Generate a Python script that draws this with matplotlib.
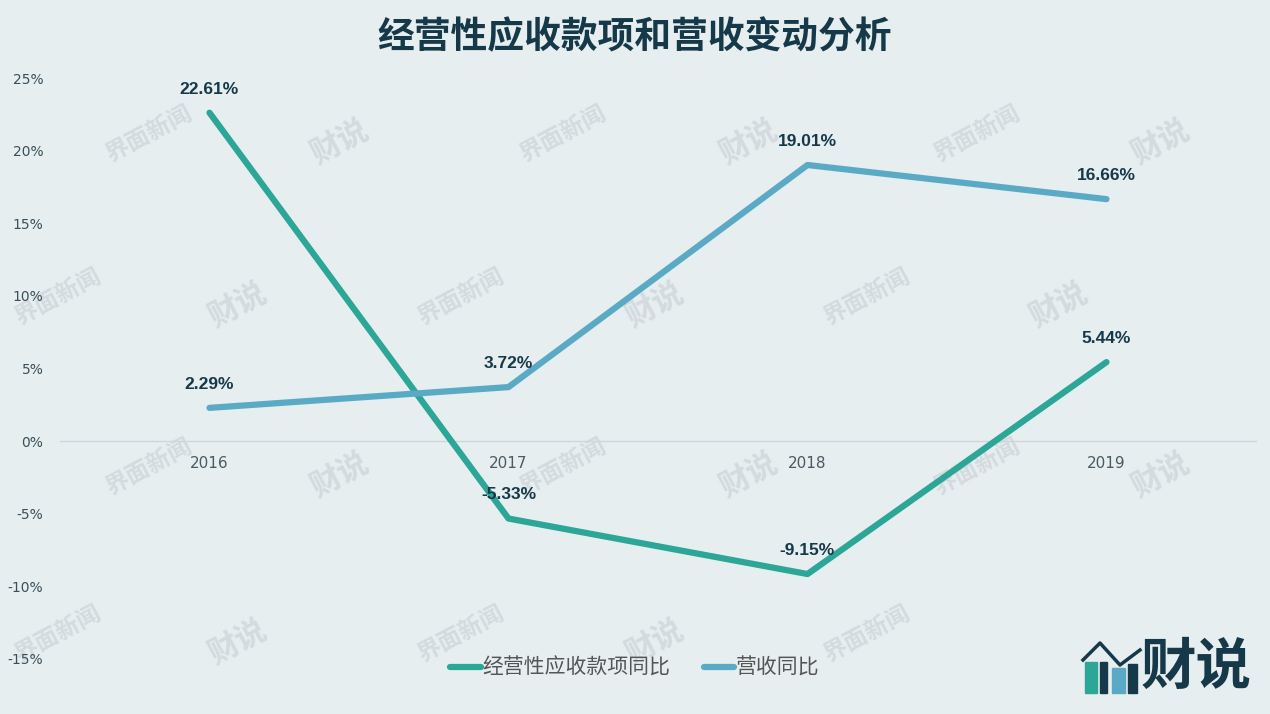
import matplotlib
matplotlib.use("Agg")
import matplotlib.pyplot as plt
from matplotlib.patches import Rectangle
from matplotlib.lines import Line2D

plt.rcParams['font.family'] = ['Noto Sans CJK SC', 'DejaVu Sans']

years = ['2016', '2017', '2018', '2019']
receivables_yoy = [22.61, -5.33, -9.15, 5.44]
revenue_yoy = [2.29, 3.72, 19.01, 16.66]
yticks = [-15, -10, -5, 0, 5, 10, 15, 20, 25]

# watermark layout (pixel centres)
wm_rows_a = [137, 470]
wm_rows_b = [300, 637]
wm_news_a = [149, 563, 977]
wm_cs_a = [339, 748, 1160]
wm_news_b = [58, 461, 867]
wm_cs_b = [237, 654, 1058]

bg = '#E6EEF0'
teal = '#2BA697'
blue = '#5BAAC5'
dark = '#16394A'
wm_color = '#D3DBDE'

fig = plt.figure(figsize=(12.7, 7.14), dpi=100, facecolor=bg)

def watermark(px, py, txt, size):
    fig.text(px / 1270, 1 - py / 714, txt, rotation=28, ha='center', va='center',
             fontsize=size, fontweight='bold', color=wm_color, zorder=-1)

for rows, news, cs in [(wm_rows_a, wm_news_a, wm_cs_a), (wm_rows_b, wm_news_b, wm_cs_b)]:
    for ry in rows:
        for nx in news:
            watermark(nx, ry - 3, '界面新闻', 17)
        for cx in cs:
            if cx > 1050 and ry > 600:
                continue
            watermark(cx, ry + 5, '财说', 22)

ax = fig.add_axes([60 / 1270, 1 - 659 / 714, 1196 / 1270, 581 / 714])
ax.set_facecolor('none')
for s in ['top', 'right', 'left']:
    ax.spines[s].set_visible(False)
ax.spines['bottom'].set_position(('data', 0))
ax.spines['bottom'].set_color('#CCD7DB')
ax.spines['bottom'].set_linewidth(1)

x = list(range(len(years)))
ax.plot(x, receivables_yoy, color=teal, lw=4.5, solid_capstyle='round',
        label='经营性应收款项同比', zorder=3)
ax.plot(x, revenue_yoy, color=blue, lw=4.5, solid_capstyle='round',
        label='营收同比', zorder=3)

for ys in [receivables_yoy, revenue_yoy]:
    for xi, yi in zip(x, ys):
        ax.annotate(f'{yi:.2f}%', (xi, yi), xytext=(0, 17), textcoords='offset points',
                    ha='center', va='center', fontsize=12.5, fontweight='bold',
                    color=dark, family=['Liberation Sans'], zorder=4)

ax.set_xlim(-0.5, 3.5)
ax.set_ylim(-15, 25)
ax.set_yticks(yticks)
ax.set_yticklabels([f'{t}%' for t in yticks], fontsize=10, color='#3A4F5A',
                   family=['DejaVu Sans'])
ax.set_xticks(x)
ax.set_xticklabels(years, fontsize=11, color='#4A5A62', family=['DejaVu Sans'])
ax.tick_params(axis='y', length=0, pad=12)
ax.tick_params(axis='x', length=0, pad=11)

fig.text(0.5, 1 - 38 / 714, '经营性应收款项和营收变动分析', ha='center', va='center',
         fontsize=26.5, fontweight='bold', color=dark)

leg = fig.legend(loc='center', bbox_to_anchor=(0.5, 1 - 668 / 714), ncol=2,
                 frameon=False, fontsize=15, handlelength=1.45, handletextpad=0.1,
                 columnspacing=1.6)
for t in leg.get_texts():
    t.set_color('#555555')

# logo in the corner
def bar(x0, y0, w, h, c):
    fig.patches.append(Rectangle((x0 / 1270, 1 - y0 / 714), w / 1270, h / 714,
                                 transform=fig.transFigure, color=c))

bar(1085, 693, 12, 31, teal)
bar(1100, 693, 7, 31, dark)
bar(1112, 693, 13, 25, blue)
bar(1128, 693, 9, 29, dark)
roof = [(1083, 660), (1100, 643), (1120, 665), (1140, 650)]
fig.lines.append(Line2D([p[0] / 1270 for p in roof], [1 - p[1] / 714 for p in roof],
                        transform=fig.transFigure, color=dark, lw=2.5))
fig.text(1196 / 1270, 1 - 668 / 714, '财说', ha='center', va='center',
         fontsize=40, fontweight='bold', color=dark)

fig.savefig('out.png', dpi=100, facecolor=bg)
